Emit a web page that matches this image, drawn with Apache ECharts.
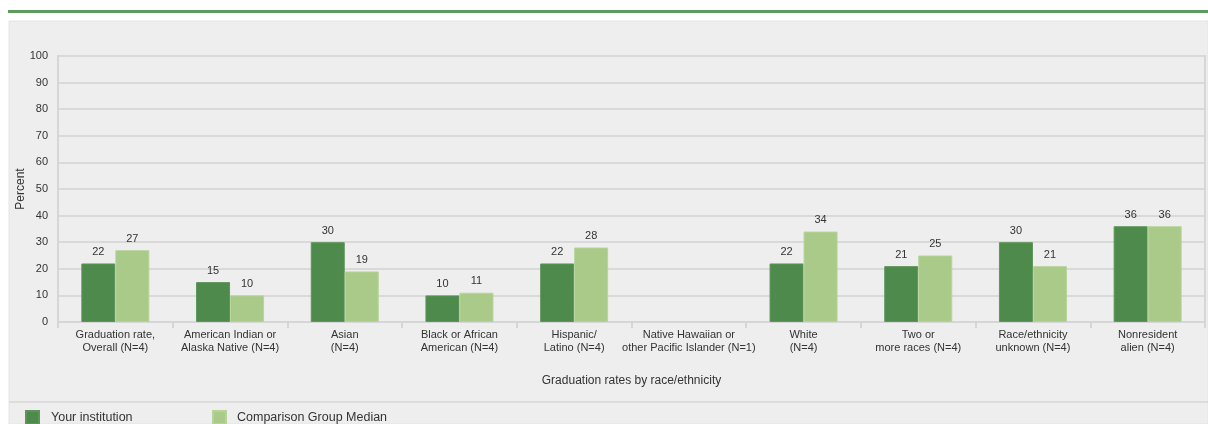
<!DOCTYPE html>
<html>
<head>
<meta charset="utf-8">
<script src="https://cdn.jsdelivr.net/npm/echarts@6/dist/echarts.min.js"></script>
<style>
html,body{margin:0;padding:0;background:#fff;}
#chart{width:1208px;height:424px;}
</style>
</head>
<body>
<div id="chart"></div>
<script>
const categories = [
  'Graduation rate,\nOverall (N=4)',
  'American Indian or\nAlaska Native (N=4)',
  'Asian\n(N=4)',
  'Black or African\nAmerican (N=4)',
  'Hispanic/\nLatino (N=4)',
  'Native Hawaiian or\nother Pacific Islander (N=1)',
  'White\n(N=4)',
  'Two or\nmore races (N=4)',
  'Race/ethnicity\nunknown (N=4)',
  'Nonresident\nalien (N=4)'
];
const yourInstitution = [22, 15, 30, 10, 22, null, 22, 21, 30, 36];
const comparisonMedian = [27, 10, 19, 11, 28, null, 34, 25, 21, 36];
const seriesNames = ['Your institution', 'Comparison Group Median'];

const darkGreen = '#4e8a4c';
const lightGreen = '#a9ca88';
const font = 'Liberation Sans, Arial, sans-serif';

const chart = echarts.init(document.getElementById('chart'), null, {renderer: 'canvas'});
const labelCfg = {show: true, position: 'top', distance: 6, color: '#333', fontSize: 11, fontFamily: font};

chart.setOption({
  animation: false,
  textStyle: {fontFamily: font},
  graphic: [
    {type: 'rect', silent: true, z: -10, shape: {x: 9, y: 21, width: 1199, height: 403}, style: {fill: '#eeeeee', stroke: '#e4e4e4', lineWidth: 1}},
    {type: 'rect', silent: true, z: -9, shape: {x: 8, y: 10, width: 1200, height: 3}, style: {fill: '#5e9a5c'}},
    {type: 'rect', silent: true, z: -9, shape: {x: 9, y: 401, width: 1199, height: 2}, style: {fill: '#dcdcdc'}}
  ],
  grid: {left: 58, right: 3, top: 56, bottom: 102, show: true, borderColor: '#d6d6d6', borderWidth: 2, backgroundColor: 'transparent'},
  legend: [
    {data: [seriesNames[0]], left: 25, top: 410, padding: 0, itemWidth: 13, itemHeight: 13, icon: 'rect',
     textStyle: {fontSize: 12.5, color: '#333', fontFamily: font, padding: [0, 0, 0, 7]}},
    {data: [seriesNames[1]], left: 212, top: 410, padding: 0, itemWidth: 13, itemHeight: 13, icon: 'rect',
     textStyle: {fontSize: 12.5, color: '#333', fontFamily: font, padding: [0, 0, 0, 6]}}
  ],
  xAxis: {
    type: 'category',
    data: categories,
    name: 'Graduation rates by race/ethnicity',
    nameLocation: 'middle',
    nameGap: 53,
    nameMoveOverlap: false,
    nameTextStyle: {fontSize: 12, color: '#333', fontFamily: font},
    axisLine: {show: true, lineStyle: {color: '#d6d6d6', width: 2}},
    axisTick: {show: true, length: 6, lineStyle: {color: '#d6d6d6', width: 2}},
    axisLabel: {interval: 0, fontSize: 11, color: '#333', lineHeight: 13, margin: 6, fontFamily: font}
  },
  yAxis: {
    type: 'value',
    min: 0, max: 100, interval: 10,
    name: 'Percent',
    nameLocation: 'middle',
    nameGap: 31,
    nameMoveOverlap: false,
    nameTextStyle: {fontSize: 12, color: '#333', fontFamily: font},
    axisLine: {show: true, lineStyle: {color: '#d6d6d6', width: 2}},
    axisTick: {show: false},
    axisLabel: {fontSize: 11, color: '#333', margin: 10, fontFamily: font},
    splitLine: {lineStyle: {color: '#d9d9d9', width: 2}}
  },
  series: [
    {name: seriesNames[0], type: 'bar', data: yourInstitution, barWidth: 34, barGap: '0%',
     itemStyle: {color: darkGreen, borderColor: '#5d9559', borderWidth: 1}, label: labelCfg},
    {name: seriesNames[1], type: 'bar', data: comparisonMedian, barWidth: 34, barGap: '0%',
     itemStyle: {color: lightGreen, borderColor: '#b6d49a', borderWidth: 1}, label: labelCfg}
  ]
});
</script>
</body>
</html>
